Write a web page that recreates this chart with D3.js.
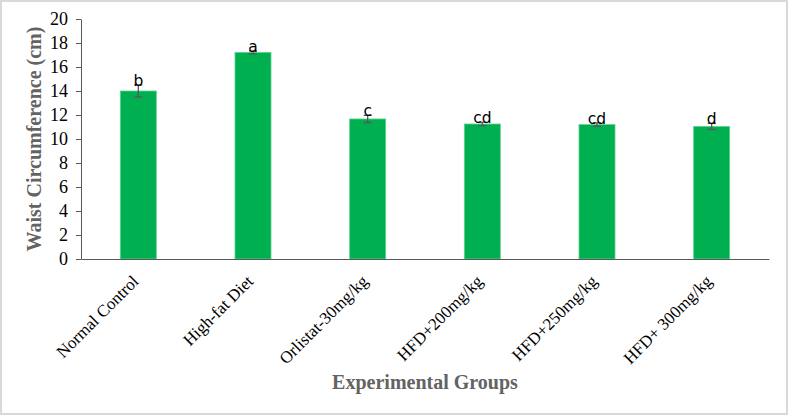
<!DOCTYPE html>
<html>
<head>
<meta charset="utf-8">
<script src="https://cdn.jsdelivr.net/npm/d3@7"></script>
<style>
body { margin: 0; background: #fff; }
.frame { fill: #fff; stroke: #d9d9d9; stroke-width: 2px; }
.axis path, .axis line { stroke: #595959; }
.axis text { font-family: "Liberation Serif", "Times New Roman", serif; fill: #000; }
.title { font-family: "Liberation Serif", "Times New Roman", serif; font-weight: bold; fill: #636363; font-size: 20px; }
.letter { font-family: "DejaVu Sans", "Liberation Sans", sans-serif; font-size: 15.5px; fill: #000; }
</style>
</head>
<body>
<svg id="chart" width="788" height="415"></svg>
<script>
var groups = ["Normal Control", "High-fat Diet", "Orlistat-30mg/kg", "HFD+200mg/kg", "HFD+250mg/kg", "HFD+ 300mg/kg"];
var values = [14.0, 17.22, 11.67, 11.25, 11.2, 11.05];
var errors = [0.5, 0.12, 0.3, 0.15, 0.15, 0.25];
var letters = ["b", "a", "c", "cd", "cd", "d"];
var yTicks = [0, 2, 4, 6, 8, 10, 12, 14, 16, 18, 20];

var svg = d3.select("#chart");

svg.append("rect")
    .attr("class", "frame")
    .attr("x", 1).attr("y", 1)
    .attr("width", 786).attr("height", 413);

var x = d3.scaleBand()
    .domain(groups)
    .range([81, 769])
    .paddingInner(0.686)
    .paddingOuter(0.343);

var y = d3.scaleLinear()
    .domain([0, 20])
    .range([259, 19]);

// y axis
var yAxis = svg.append("g")
    .attr("class", "axis")
    .attr("transform", "translate(81,0)")
    .call(d3.axisLeft(y).tickValues(yTicks).tickSize(5).tickPadding(8).tickSizeOuter(0));
yAxis.selectAll("text").style("font-size", "18px");

// bars
svg.selectAll(".bar")
    .data(values)
    .enter().append("rect")
    .attr("class", "bar")
    .attr("x", function(d, i) { return x(groups[i]); })
    .attr("y", function(d) { return y(d); })
    .attr("width", x.bandwidth())
    .attr("height", function(d) { return y(0) - y(d); })
    .attr("fill", "#00b050")
    .attr("stroke", "#5fd18f")
    .attr("stroke-width", 0.8);

// error bars
var err = svg.selectAll(".err")
    .data(values)
    .enter().append("g")
    .attr("class", "err")
    .attr("stroke", "#595959")
    .attr("stroke-width", 1.3);

err.append("line")
    .attr("x1", function(d, i) { return x(groups[i]) + x.bandwidth() / 2; })
    .attr("x2", function(d, i) { return x(groups[i]) + x.bandwidth() / 2; })
    .attr("y1", function(d, i) { return y(d + errors[i]); })
    .attr("y2", function(d, i) { return y(d - errors[i]); });

[1, -1].forEach(function(s) {
    err.append("line")
        .attr("x1", function(d, i) { return x(groups[i]) + x.bandwidth() / 2 - 4; })
        .attr("x2", function(d, i) { return x(groups[i]) + x.bandwidth() / 2 + 4; })
        .attr("y1", function(d, i) { return y(d + s * errors[i]); })
        .attr("y2", function(d, i) { return y(d + s * errors[i]); });
});

// significance letters
svg.selectAll(".letter")
    .data(values)
    .enter().append("text")
    .attr("class", "letter")
    .attr("text-anchor", "middle")
    .attr("x", function(d, i) { return x(groups[i]) + x.bandwidth() / 2; })
    .attr("y", function(d, i) { return y(d + errors[i]) + 1; })
    .text(function(d, i) { return letters[i]; });

// x axis
var xAxis = svg.append("g")
    .attr("class", "axis")
    .attr("transform", "translate(0,259)")
    .call(d3.axisBottom(x).tickSize(0).tickSizeOuter(0));
xAxis.selectAll("text")
    .style("font-size", "17px")
    .attr("text-anchor", "end")
    .attr("dy", "0.35em")
    .attr("transform", "translate(-5,17) rotate(-45)");

svg.append("text")
    .attr("class", "title")
    .attr("x", 425).attr("y", 389)
    .attr("text-anchor", "middle")
    .text("Experimental Groups");

svg.append("text")
    .attr("class", "title")
    .attr("transform", "translate(41,139) rotate(-90)")
    .attr("text-anchor", "middle")
    .text("Waist Circumference (cm)");
</script>
</body>
</html>
